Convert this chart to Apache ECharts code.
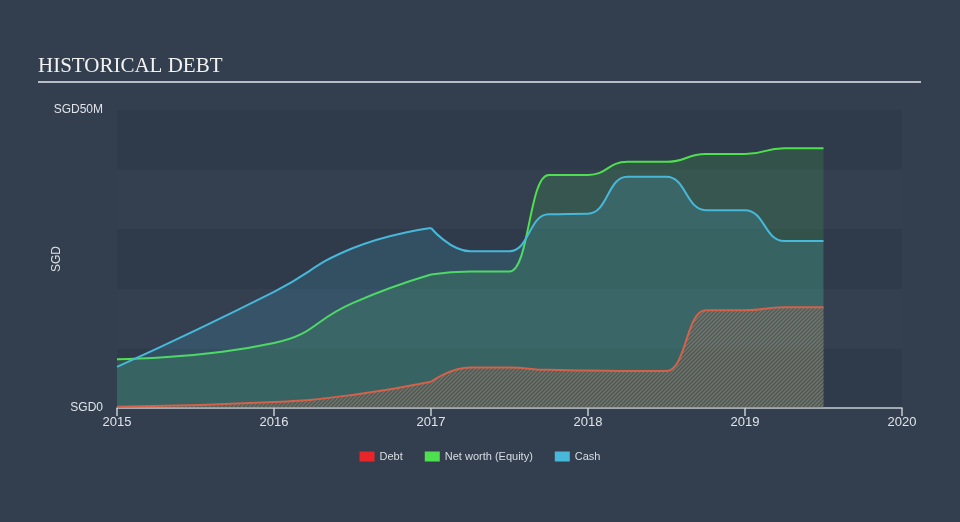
<!DOCTYPE html>
<html>
<head>
<meta charset="utf-8">
<script src="https://cdn.jsdelivr.net/npm/echarts@6/dist/echarts.min.js"></script>
<style>
  html, body { margin: 0; padding: 0; background: #333f4f; }
  #chart { width: 960px; height: 522px; }
</style>
</head>
<body>
<div id="chart"></div>
<script>
// dates as decimal years; early part drawn with a free curve, later reports with flat steps
const earlyDates = [2015.0, 2016.0, 2016.5, 2017.0];
const lateDates = [2017.0, 2017.25, 2017.5, 2017.75, 2018.0, 2018.25,
  2018.5, 2018.75, 2019.0, 2019.25, 2019.5];
// values in SGD millions
const debtEarly = [0.2, 1.0, 2.2, 4.4];
const debtLate = [4.4, 6.8, 6.8, 6.4, 6.3, 6.2, 6.2, 16.4, 16.4, 16.9, 16.9];
const netWorthEarly = [8.2, 10.9, 17.6, 22.4];
const netWorthLate = [22.4, 22.9, 22.9, 39.1, 39.1, 41.3, 41.3, 42.6, 42.6, 43.6, 43.6];
const cashEarly = [6.9, 19.5, 26.8, 30.2];
const cashLate = [30.2, 26.3, 26.3, 32.5, 32.6, 38.8, 38.8, 33.2, 33.2, 28.0, 28.0];
const yearTicks = [2015, 2016, 2017, 2018, 2019, 2020];

function pairs(dates, vals) {
  return dates.map((d, i) => [d, vals[i]]);
}

function hatch() {
  const c = document.createElement("canvas");
  c.width = 4;
  c.height = 4;
  const ctx = c.getContext("2d");
  ctx.strokeStyle = "rgba(212,110,86,0.8)";
  ctx.lineWidth = 1.3;
  ctx.beginPath();
  ctx.moveTo(-1, 5);
  ctx.lineTo(5, -1);
  ctx.moveTo(-1, 1);
  ctx.lineTo(1, -1);
  ctx.moveTo(3, 5);
  ctx.lineTo(5, 3);
  ctx.stroke();
  return c;
}

const hatchPattern = { image: hatch(), repeat: "repeat" };

const styles = {
  "Net worth (Equity)": { line: "#4fe04f", area: "rgba(72,196,82,0.25)", z: 2 },
  "Cash": { line: "#47b8da", area: "rgba(74,184,216,0.25)", z: 3 },
  "Debt": { line: "#d4624a", area: hatchPattern, z: 4 }
};

function makeSeries(name, data, late) {
  const s = styles[name];
  return {
    name: name,
    type: "line",
    data: data,
    smooth: 0.5,
    smoothMonotone: late ? "x" : undefined,
    symbol: "none",
    lineStyle: { color: s.line, width: 2 },
    itemStyle: { color: s.line },
    areaStyle: { color: s.area },
    z: s.z
  };
}

const chart = echarts.init(document.getElementById("chart"));
const option = {
  backgroundColor: "#333f4f",
  animation: false,
  graphic: [
    {
      type: "text",
      left: 38,
      top: 56,
      style: {
        text: "HISTORICAL DEBT",
        fill: "#f2f2f2",
        font: "21px 'Liberation Serif', serif"
      }
    },
    {
      type: "rect",
      shape: { x: 38, y: 81, width: 883, height: 2 },
      style: { fill: "#b9bec6" }
    }
  ],
  legend: {
    bottom: 55,
    left: "center",
    itemWidth: 15,
    itemHeight: 10,
    itemGap: 22,
    icon: "rect",
    textStyle: { color: "#d8dce2", fontSize: 11, fontFamily: "Liberation Sans" },
    data: [
      { name: "Debt", itemStyle: { color: "#e8262a" } },
      { name: "Net worth (Equity)", itemStyle: { color: "#4fe04f" } },
      { name: "Cash", itemStyle: { color: "#47b8da" } }
    ]
  },
  grid: { left: 117, right: 58, top: 110, bottom: 114 },
  xAxis: {
    type: "value",
    min: 2015,
    max: 2020,
    interval: 1,
    axisLine: { lineStyle: { color: "#c5ccd4", width: 1.5 } },
    axisTick: { length: 8, lineStyle: { color: "#c5ccd4", width: 1.5 } },
    axisLabel: {
      color: "#e0e3e8",
      fontSize: 13,
      fontFamily: "Liberation Sans",
      margin: 8,
      formatter: v => (yearTicks.indexOf(v) >= 0 ? String(v) : "")
    },
    splitLine: { show: false }
  },
  yAxis: {
    type: "value",
    min: 0,
    max: 50,
    interval: 10,
    name: "SGD",
    nameLocation: "middle",
    nameGap: 54,
    nameMoveOverlap: false,
    nameTextStyle: { color: "#dfe2e6", fontSize: 12, fontFamily: "Liberation Sans" },
    axisLine: { show: false },
    axisTick: { show: false },
    axisLabel: {
      color: "#e0e3e8",
      fontSize: 12,
      fontFamily: "Liberation Sans",
      margin: 14,
      formatter: v => (v === 0 ? "SGD0" : v === 50 ? "SGD50M" : "")
    },
    splitLine: { show: false },
    splitArea: { show: true, areaStyle: { color: ["#2f3a4a", "#343f4f"] } }
  },
  series: [
    makeSeries("Net worth (Equity)", pairs(earlyDates, netWorthEarly), false),
    makeSeries("Net worth (Equity)", pairs(lateDates, netWorthLate), true),
    makeSeries("Cash", pairs(earlyDates, cashEarly), false),
    makeSeries("Cash", pairs(lateDates, cashLate), true),
    makeSeries("Debt", pairs(earlyDates, debtEarly), false),
    makeSeries("Debt", pairs(lateDates, debtLate), true)
  ]
};
chart.setOption(option);
</script>
</body>
</html>
